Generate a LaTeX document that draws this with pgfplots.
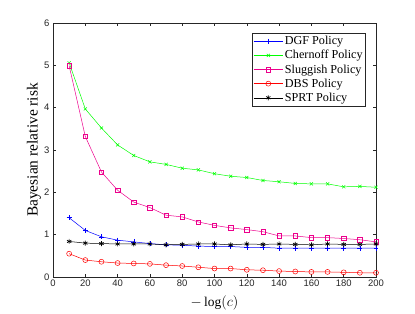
\documentclass[border=0pt]{standalone}
\usepackage{pgfplots}
\pgfplotsset{compat=1.18}
\usepackage{fontspec}
\setmainfont{Liberation Serif}
\newfontfamily\tickfont{Liberation Sans}
\definecolor{axgray}{rgb}{0.15,0.15,0.15}
\begin{document}
\begin{tikzpicture}
\begin{axis}[
  name=ax, at={(0,0)}, anchor=south west,
  scale only axis, width=323bp, height=254bp,
  xmin=0, xmax=200, ymin=0, ymax=6,
  xtick={0,20,...,200}, ytick={0,1,...,6},
  tick align=inside, tick pos=both,
  major tick length=3pt,
  axis line style={axgray, line width=0.5pt},
  tick style={axgray, line width=0.5pt},
  ticklabel style={font=\tickfont\fontsize{9.5}{10}\selectfont, text=axgray},
  xticklabel style={yshift=1pt},
  /pgf/number format/assume math mode=true,
  xlabel={$-\log(c)$}, ylabel={Bayesian relative risk},
  xlabel style={font=\fontsize{13.5}{15}\selectfont, at={(axis description cs:0.5,-0.102)}, anchor=center},
  ylabel style={font=\fontsize{15.5}{17}\selectfont, at={(axis description cs:-0.059,0.5)}, anchor=center},
  legend style={at={(rel axis cs:0.969,0.961)}, anchor=north east, font=\fontsize{12.2}{13}\selectfont, draw=axgray, line width=0.5pt, inner sep=1.5pt, row sep=1pt,
    nodes={inner sep=1.6pt}},
  legend image code/.code={\draw[mark repeat=2,mark phase=2,#1] plot coordinates {(0cm,0cm)(0.52cm,0cm)(1.04cm,0cm)};},
  legend cell align=left,
  every axis plot/.append style={line width=0.5pt},
]
\addplot[blue, mark=+, mark size=2.5pt, mark options={solid, draw=blue}] coordinates {
(10,1.40)(20,1.10)(30,0.95)(40,0.87)(50,0.83)(60,0.79)(70,0.76)(80,0.75)(90,0.73)(100,0.72)
(110,0.72)(120,0.70)(130,0.70)(140,0.68)(150,0.68)(160,0.68)(170,0.68)(180,0.68)(190,0.68)(200,0.68)};
\addlegendentry{DGF Policy}
\addplot[green, mark=x, mark size=2.2pt, mark options={solid, draw=green}] coordinates {
(10,5.06)(20,3.97)(30,3.52)(40,3.12)(50,2.87)(60,2.72)(70,2.66)(80,2.57)(90,2.53)(100,2.44)
(110,2.38)(120,2.35)(130,2.28)(140,2.25)(150,2.21)(160,2.20)(170,2.20)(180,2.13)(190,2.14)(200,2.12)};
\addlegendentry{Chernoff Policy}
\addplot[magenta, mark=square, mark size=2.2pt, mark options={solid, draw=magenta}] coordinates {
(10,4.99)(20,3.32)(30,2.48)(40,2.05)(50,1.77)(60,1.64)(70,1.46)(80,1.42)(90,1.30)(100,1.22)
(110,1.16)(120,1.12)(130,1.07)(140,0.97)(150,0.97)(160,0.93)(170,0.93)(180,0.91)(190,0.88)(200,0.83)};
\addlegendentry{Sluggish Policy}
\addplot[red, mark=o, mark size=2.5pt, mark options={solid, draw=red}] coordinates {
(10,0.55)(20,0.40)(30,0.36)(40,0.33)(50,0.32)(60,0.31)(70,0.28)(80,0.26)(90,0.23)(100,0.20)
(110,0.20)(120,0.17)(130,0.16)(140,0.14)(150,0.13)(160,0.12)(170,0.12)(180,0.11)(190,0.10)(200,0.10)};
\addlegendentry{DBS Policy}
\addplot[black, mark=asterisk, mark size=2.5pt, mark options={solid, draw=black, line width=0.7pt}] coordinates {
(10,0.84)(20,0.80)(30,0.79)(40,0.78)(50,0.78)(60,0.78)(70,0.76)(80,0.77)(90,0.78)(100,0.78)
(110,0.76)(120,0.78)(130,0.77)(140,0.78)(150,0.77)(160,0.76)(170,0.78)(180,0.77)(190,0.77)(200,0.78)};
\addlegendentry{SPRT Policy}
\end{axis}
\path[use as bounding box] (-53bp,-35bp) rectangle (362bp,277bp);
\end{tikzpicture}
\end{document}
